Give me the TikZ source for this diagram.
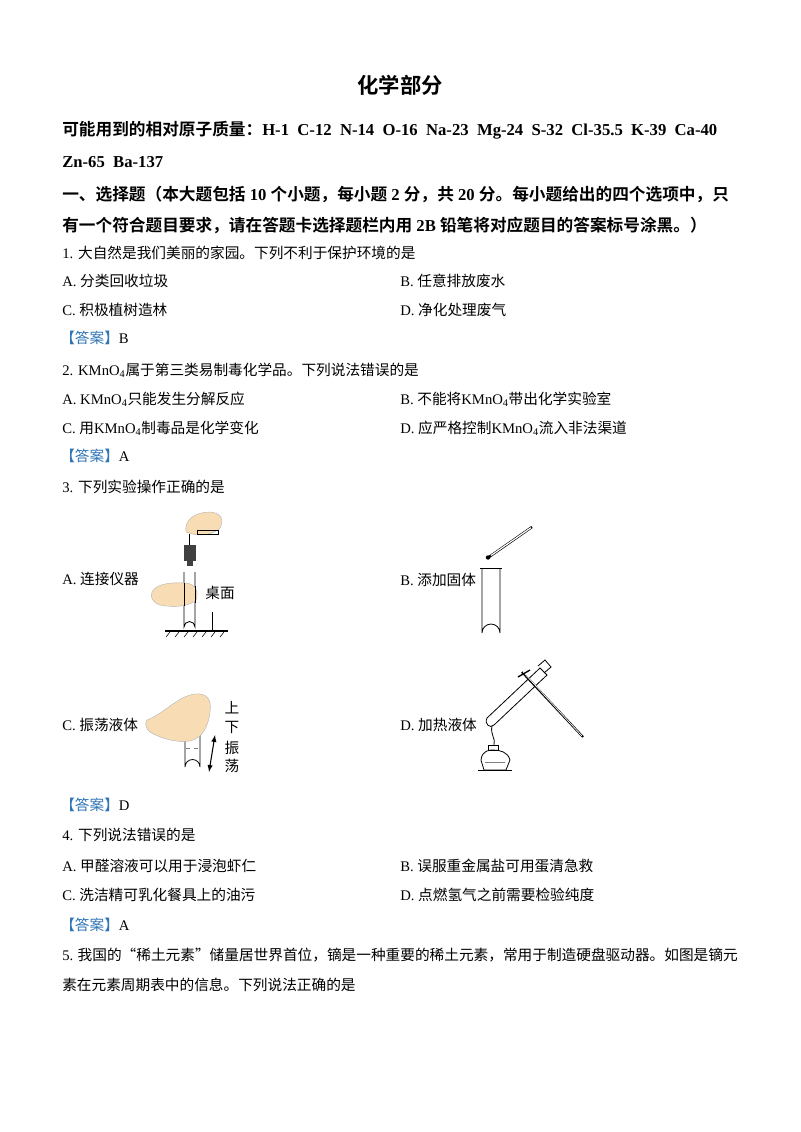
\documentclass[tikz,border=0pt]{standalone}
\usepackage{fontspec}
\setmainfont{Noto Sans CJK SC}
\newfontfamily\tm{Liberation Serif}
\newfontfamily\cjkb{Noto Sans CJK SC Bold}
\definecolor{ansblue}{HTML}{2E75B6}
\definecolor{skin}{HTML}{F8DDB4}
\begin{document}
\begin{tikzpicture}[x=0.75pt,y=-0.75pt,
  txt/.style={anchor=west,inner sep=0,font=\fontsize{11}{13}\selectfont},
  btxt/.style={anchor=west,inner sep=0,font=\fontsize{12.5}{14}\selectfont\cjkb},
  glass/.style={draw=black,line width=0.6pt}]
\useasboundingbox (0,0) rectangle (800,1132);
\node[inner sep=0,font=\fontsize{16}{18}\selectfont\cjkb] (title) at (400,85) {化学部分};
\node[btxt] (m1) at (62,130) {可能用到的相对原子质量：{\tm\bfseries H-1\ \ C-12\ \ N-14\ \ O-16\ \ Na-23\ \ Mg-24\ \ S-32\ \ Cl-35.5\ \ K-39\ \ Ca-40}};
\node[btxt] (m2) at (62,162) {\tm\bfseries Zn-65\ \ Ba-137};
\node[btxt] (s1) at (62,194) {一、选择题（本大题包括{\tm\bfseries\ 10 }个小题，每小题{\tm\bfseries\ 2 }分，共{\tm\bfseries\ 20 }分。每小题给出的四个选项中，只};
\node[btxt] (s2) at (62,225) {有一个符合题目要求，请在答题卡选择题栏内用{\tm\bfseries\ 2B }铅笔将对应题目的答案标号涂黑。）};
% Q1
\node[txt] (q1) at (62,253) {{\tm 1. }大自然是我们美丽的家园。下列不利于保护环境的是};
\node[txt] (q1a) at (62,281) {{\tm A.\ }分类回收垃圾};
\node[txt] (q1b) at (400,281) {{\tm B.\ }任意排放废水};
\node[txt] (q1c) at (62,310) {{\tm C.\ }积极植树造林};
\node[txt] (q1d) at (400,310) {{\tm D.\ }净化处理废气};
\node[txt] (a1) at (60,338) {\textcolor{ansblue}{【答案】}{\tm B}};
% Q2
\node[txt] (q2) at (62,370) {{\tm 2. KMnO\textsubscript{4}}属于第三类易制毒化学品。下列说法错误的是};
\node[txt] (q2a) at (62,399) {{\tm A. KMnO\textsubscript{4}}只能发生分解反应};
\node[txt] (q2b) at (400,399) {{\tm B.\ }不能将{\tm KMnO\textsubscript{4}}带出化学实验室};
\node[txt] (q2c) at (62,428) {{\tm C.\ }用{\tm KMnO\textsubscript{4}}制毒品是化学变化};
\node[txt] (q2d) at (400,428) {{\tm D.\ }应严格控制{\tm KMnO\textsubscript{4}}流入非法渠道};
\node[txt] (a2) at (60,456) {\textcolor{ansblue}{【答案】}{\tm A}};
% Q3
\node[txt] (q3) at (62,487) {{\tm 3. }下列实验操作正确的是};
\node[txt] (q3a) at (62,579) {{\tm A.\ }连接仪器};
\node[txt] (q3b) at (400,580) {{\tm B.\ }添加固体};
\node[txt] (q3c) at (62,725) {{\tm C.\ }振荡液体};
\node[txt] (q3d) at (400,725) {{\tm D.\ }加热液体};
% --- picture A
\fill[skin,draw=gray!60,line width=0.3pt] (186,532) .. controls (184,520) and (195,512) .. (210,512) .. controls (222,513) and (224,520) .. (220,528) .. controls (214,534) and (200,538) .. (186,532) -- cycle;
\draw[glass] (197,530) rectangle (218,534);
\draw[glass] (189,534) -- (189,545);
\fill[black!75] (184,545) rectangle (196,561);
\fill[black!75] (187,561) rectangle (193,566);
\draw[glass] (184,572) -- (184,627) arc (180:360:5.5) -- (195,572);
\fill[skin,draw=gray!60,line width=0.3pt] (152,592) .. controls (156,584) and (170,582) .. (186,583) .. controls (196,584) and (199,592) .. (196,600) .. controls (190,606) and (175,608) .. (160,605) .. controls (152,602) and (150,597) .. (152,592) -- cycle;
\draw[glass] (184,583) -- (184,606) (195,586) -- (195,603);
\node[inner sep=0,font=\fontsize{11}{13}\selectfont] (desk) at (220,593) {桌面};
\draw[line width=0.7pt] (212,612) -- (212,630);
\draw[line width=1.2pt] (165,631) -- (228,631);
\foreach \i in {0,...,6} \draw[line width=0.4pt] (170+\i*9,632) -- (166+\i*9,637);
% --- picture B
\draw[glass] (482,568) -- (482,633) arc (180:360:9) -- (500,568);
\draw[glass] (480,568) -- (502,568);
\draw[line width=1.8pt] (489,557) -- (532,527);
\draw[white,line width=0.9pt] (491,555.5) -- (531,527.7);
\fill (488,557.5) circle (2.2);
% --- picture C
\draw[glass] (185,725) -- (185,767) arc (180:360:7.5) -- (200,725);
\draw[gray,dashed,line width=0.4pt] (186,748) -- (199,748);
\fill[skin,draw=gray!60,line width=0.3pt] (147,720) .. controls (165,713) and (178,696) .. (195,694) .. controls (206,693) and (212,698) .. (210,712) .. controls (208,728) and (202,738) .. (190,741) .. controls (175,743) and (160,738) .. (150,732) .. controls (145,728) and (145,723) .. (147,720) -- cycle;
\draw[line width=0.8pt,<->,>=latex] (215,735) -- (209,772);
\node[inner sep=0,font=\fontsize{11}{13}\selectfont] (sh1) at (232,708) {上};
\node[inner sep=0,font=\fontsize{11}{13}\selectfont] (sh2) at (232,727) {下};
\node[inner sep=0,font=\fontsize{11}{13}\selectfont] (sh3) at (232,748) {振};
\node[inner sep=0,font=\fontsize{11}{13}\selectfont] (sh4) at (232,766) {荡};
% --- picture D
\draw[glass] (487,718) -- (540,668) -- (547,675) -- (494,725) .. controls (490,729) and (484,724) .. (487,718);
\draw[glass] (538,666) -- (545,660) -- (551,667) -- (544,673);
\draw[line width=1.6pt] (522,672) -- (583,737);
\draw[white,line width=0.5pt] (523,672) -- (582,736);
\draw[line width=1pt] (518,677) -- (530,670);
\draw[glass] (492,726) .. controls (490,735) and (496,738) .. (494,745);
\draw[glass] (488,745) rectangle (498,750);
\draw[glass] (481,760) .. controls (482,750) and (490,750) .. (493,750) .. controls (500,750) and (508,752) .. (510,760) -- (506,770) -- (484,770) -- cycle;
\draw[glass] (478,770) -- (512,770);
\draw[gray,line width=0.4pt] (485,762) -- (505,762);
\node[txt] (a3) at (60,805) {\textcolor{ansblue}{【答案】}{\tm D}};
% Q4
\node[txt] (q4) at (62,835) {{\tm 4. }下列说法错误的是};
\node[txt] (q4a) at (62,866) {{\tm A.\ }甲醛溶液可以用于浸泡虾仁};
\node[txt] (q4b) at (400,866) {{\tm B.\ }误服重金属盐可用蛋清急救};
\node[txt] (q4c) at (62,895) {{\tm C.\ }洗洁精可乳化餐具上的油污};
\node[txt] (q4d) at (400,895) {{\tm D.\ }点燃氢气之前需要检验纯度};
\node[txt] (a4) at (60,925) {\textcolor{ansblue}{【答案】}{\tm A}};
% Q5
\node[txt,text width=674*0.75pt,align=justify] (q5a) at (62,955) {{\tm 5. }我国的“稀土元素”储量居世界首位，镝是一种重要的稀土元素，常用于制造硬盘驱动器。如图是镝元};
\node[txt] (q5b) at (62,985) {素在元素周期表中的信息。下列说法正确的是};
\end{tikzpicture}
\end{document}
